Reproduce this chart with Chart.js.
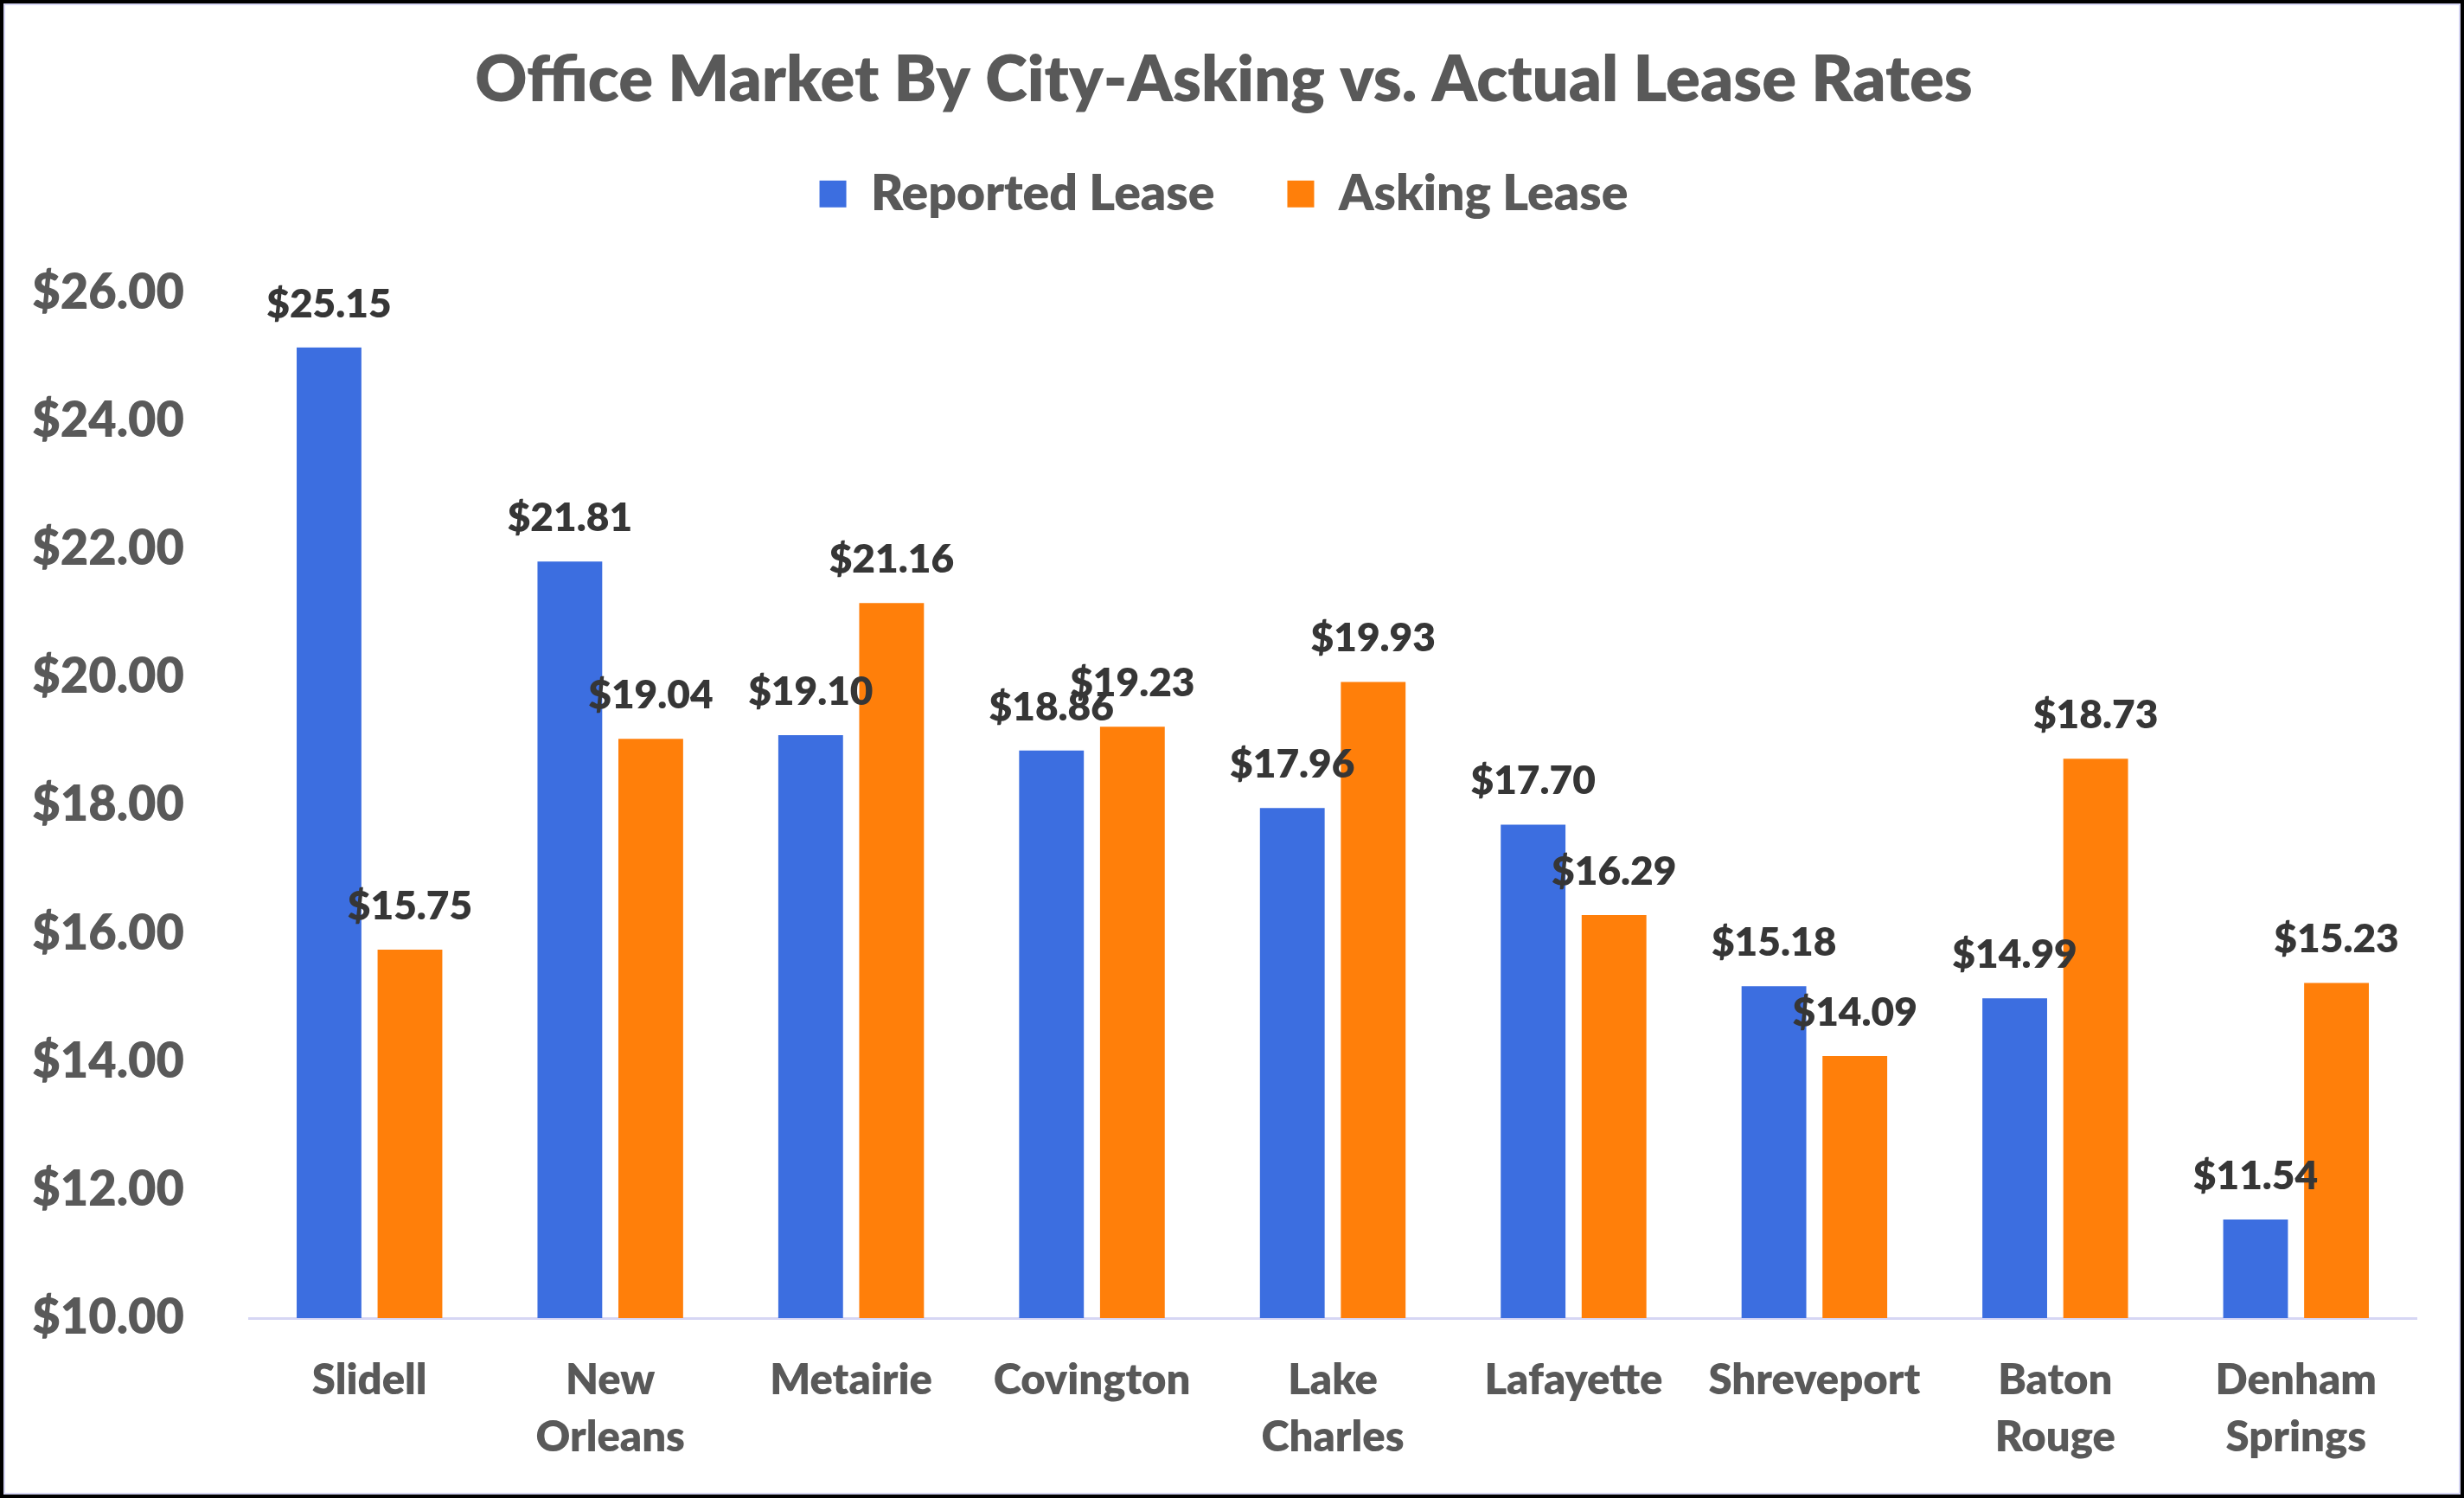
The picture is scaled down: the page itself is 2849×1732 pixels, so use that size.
<!DOCTYPE html>
<html>
<head>
<meta charset="utf-8">
<script src="https://cdn.jsdelivr.net/npm/chart.js@4.4.0/dist/chart.umd.min.js"></script>
<style>
  html, body { margin: 0; padding: 0; background: #fff; }
  #wrap { position: relative; width: 2849px; height: 1732px; }
  #myChart { position: absolute; left: 0; top: 0; }
  #frame {
    position: absolute; left: 0; top: 0; width: 2849px; height: 1732px;
    box-sizing: border-box; border: 4px solid #000; pointer-events: none;
  }
  #frame div {
    position: absolute; left: 0; top: 0; right: 0; bottom: 0;
    border: 2px solid #D6D6F4;
  }
</style>
</head>
<body>
<div id="wrap">
  <canvas id="myChart" width="2849" height="1732"></canvas>
  <div id="frame"><div></div></div>
</div>
<script>
var cidades = [['Slidell'], ['New', 'Orleans'], ['Metairie'], ['Covington'], ['Lake', 'Charles'],
  ['Lafayette'], ['Shreveport'], ['Baton', 'Rouge'], ['Denham', 'Springs']];
var reportado = [25.15, 21.81, 19.10, 18.86, 17.96, 17.70, 15.18, 14.99, 11.54];
var pedido = [15.75, 19.04, 21.16, 19.23, 19.93, 16.29, 14.09, 18.73, 15.23];
var yMin = 10, yMax = 26, yPasso = 2;

var fonte = 'Lato, "Open Sans", sans-serif';
Chart.defaults.font.family = fonte;
Chart.defaults.font.weight = '800';
Chart.defaults.color = '#595959';

// escreve o valor em cima de cada barra
var rotulos = {
  id: 'rotulos',
  afterDatasetsDraw: function(chart) {
    var ctx = chart.ctx;
    ctx.save();
    ctx.font = '800 46px ' + fonte;
    ctx.fillStyle = '#363636';
    ctx.textAlign = 'center';
    ctx.textBaseline = 'middle';
    chart.data.datasets.forEach(function(ds, i) {
      chart.getDatasetMeta(i).data.forEach(function(bar, j) {
        ctx.fillText('$' + ds.data[j].toFixed(2), bar.x, bar.y - 50);
      });
    });
    ctx.restore();
  }
};

var ctx = document.getElementById('myChart').getContext('2d');
var chart = new Chart(ctx, {
  type: 'bar',
  data: {
    labels: cidades,
    datasets: [{
      label: 'Reported Lease',
      backgroundColor: '#3C6EE0',
      data: reportado
    }, {
      label: 'Asking Lease',
      backgroundColor: '#FF7F0A',
      data: pedido
    }]
  },
  options: {
    responsive: false,
    animation: false,
    layout: { padding: { left: 36, right: 55, top: 0, bottom: 0 } },
    categoryPercentage: 0.672,
    barPercentage: 0.80,
    plugins: {
      title: {
        display: true,
        text: 'Office Market By City-Asking vs. Actual Lease Rates',
        color: '#595959',
        font: { size: 74, weight: '800' },
        padding: { top: 49, bottom: -26 }
      },
      // so um espaco entre a legenda e o grafico
      subtitle: {
        display: true,
        text: ' ',
        weight: 500,
        font: { size: 1, lineHeight: 1 },
        padding: { top: 75, bottom: 0 }
      },
      legend: {
        position: 'top',
        labels: {
          boxWidth: 31,
          boxHeight: 31,
          padding: 84,
          color: '#595959',
          font: { size: 57, weight: '800' }
        }
      },
      tooltip: { enabled: false }
    },
    scales: {
      x: {
        grid: { display: false, drawTicks: false },
        border: { color: '#D6D6F4', width: 3 },
        ticks: {
          color: '#595959',
          padding: 40,
          font: { size: 49, weight: '800', lineHeight: 1.33 }
        },
        afterFit: function(scale) { scale.height = 208; }
      },
      y: {
        min: yMin,
        max: yMax,
        grid: { display: false, drawTicks: false },
        border: { display: false },
        ticks: {
          stepSize: yPasso,
          padding: 75,
          color: '#595959',
          font: { size: 56, weight: '800' },
          callback: function(v) { return '$' + v.toFixed(2); }
        },
        afterFit: function(scale) { scale.width = 252; }
      }
    }
  },
  plugins: [rotulos]
});
</script>
</body>
</html>
